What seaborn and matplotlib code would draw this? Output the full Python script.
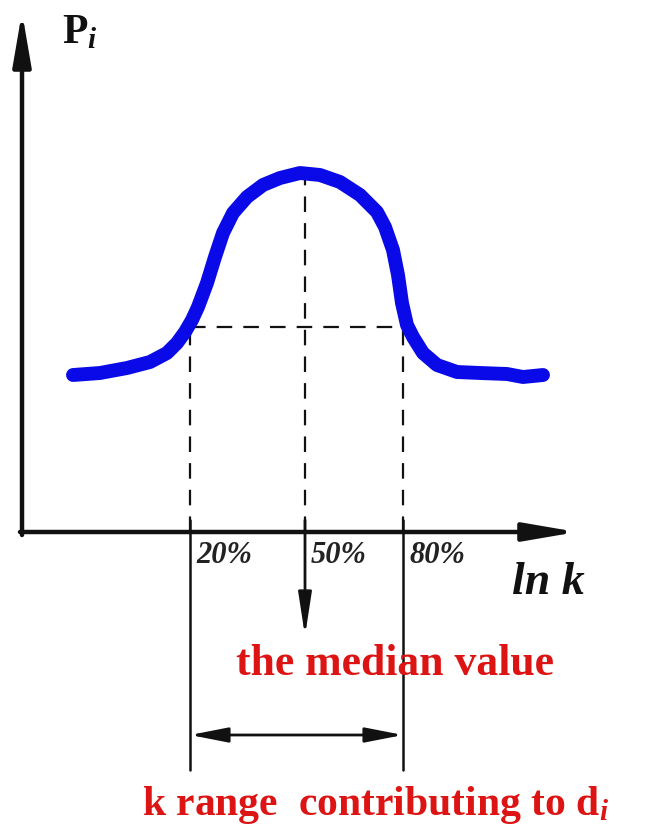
import numpy as np
import pandas as pd
import matplotlib
matplotlib.use("Agg")
import matplotlib.pyplot as plt
import seaborn as sns

# Schematic distribution of P_i over ln k
ln_k = [0.51, 0.78, 1.05, 1.28, 1.45, 1.55, 1.63, 1.70, 1.76, 1.85, 1.93,
        2.01, 2.11, 2.25, 2.41, 2.58, 2.78, 2.98, 3.18, 3.38, 3.55, 3.63,
        3.71, 3.76, 3.80, 3.85, 3.91, 4.01, 4.15, 4.35, 4.58, 4.85, 5.01, 5.21]
p_i = [1.57, 1.59, 1.64, 1.70, 1.79, 1.89, 2.00, 2.12, 2.25, 2.49, 2.75,
       2.99, 3.19, 3.35, 3.47, 3.54, 3.59, 3.57, 3.50, 3.37, 3.20, 3.05,
       2.82, 2.57, 2.29, 2.07, 1.95, 1.79, 1.67, 1.60, 1.59, 1.58, 1.55, 1.57]

pct_labels = ["20%", "50%", "80%"]
pct_lnk = [1.68, 2.83, 3.81]
level_20 = 2.05
peak = 3.60

sns.set_theme(style="white")
plt.rcParams["font.family"] = ["Liberation Serif", "DejaVu Serif"]
plt.rcParams["mathtext.fontset"] = "custom"
plt.rcParams["mathtext.rm"] = "Liberation Serif:bold"
plt.rcParams["mathtext.it"] = "Liberation Serif:italic:bold"
plt.rcParams["mathtext.bf"] = "Liberation Serif:bold"

fig = plt.figure(figsize=(6.62, 8.26), dpi=100)
ax = fig.add_axes([0, 0, 1, 1])
ax.set_xlim(-0.22, 6.40)
ax.set_ylim(-2.94, 5.32)
ax.axis("off")

black = "#111111"
red = "#dd1414"


def arrow(start, end, style, lw):
    ax.annotate("", xy=end, xytext=start,
                arrowprops=dict(arrowstyle=style, color=black, lw=lw,
                                shrinkA=0, shrinkB=0, mutation_scale=10))


# axes with arrowheads
arrow((0, -0.03), (0, 5.20), "-|>,head_length=3.2,head_width=0.55", 3.2)
arrow((-0.02, 0), (5.55, 0), "-|>,head_length=3.2,head_width=0.55", 3.2)

# dashed guides
dash = dict(color=black, lw=1.6, linestyle=(0, (7, 5)))
ax.plot([pct_lnk[0], pct_lnk[2]], [level_20, level_20], **dash)
ax.plot([pct_lnk[0], pct_lnk[0]], [0, level_20], **dash)
ax.plot([pct_lnk[2], pct_lnk[2]], [0, level_20], **dash)
ax.plot([pct_lnk[1], pct_lnk[1]], [0, peak], **dash)

# curve
df = pd.DataFrame({"ln k": ln_k, "P": p_i})
sns.lineplot(data=df, x="ln k", y="P", ax=ax, color="#0a0ae8", lw=10,
             solid_capstyle="round", solid_joinstyle="round", sort=False)
ax.set_xlabel("")
ax.set_ylabel("")

# solid leaders below the axis
ax.plot([pct_lnk[0], pct_lnk[0]], [0.12, -2.38], color=black, lw=1.8)
ax.plot([pct_lnk[2], pct_lnk[2]], [0.12, -2.38], color=black, lw=1.8)
arrow((pct_lnk[1], 0.12), (pct_lnk[1], -1.04), "-|>,head_length=2.6,head_width=0.4", 2.0)
arrow((pct_lnk[2], -2.03), (pct_lnk[0], -2.03), "<|-|>,head_length=2.3,head_width=0.45", 2.0)

# percentile labels
for lab, x in zip(pct_labels, pct_lnk):
    ax.text(x + 0.06, -0.31, lab, fontsize=22, style="italic", fontweight="bold",
            color="#222222", ha="left", va="baseline")

ax.text(4.90, -0.62, "ln k", fontsize=33, style="italic", fontweight="bold",
        color=black, ha="left", va="baseline")
ax.text(0.40, 4.89, r"P${}_{i}$", fontsize=30, fontweight="bold",
        color=black, ha="left", va="baseline")

ax.text(3.73, -1.43, "the median value", fontsize=31.5, fontweight="bold",
        color=red, ha="center", va="baseline")
ax.text(1.20, -2.83, r"k range  contributing to d${}_{i}$", fontsize=30,
        fontweight="bold", color=red, ha="left", va="baseline")

fig.savefig("out.png", dpi=100, facecolor="white")
